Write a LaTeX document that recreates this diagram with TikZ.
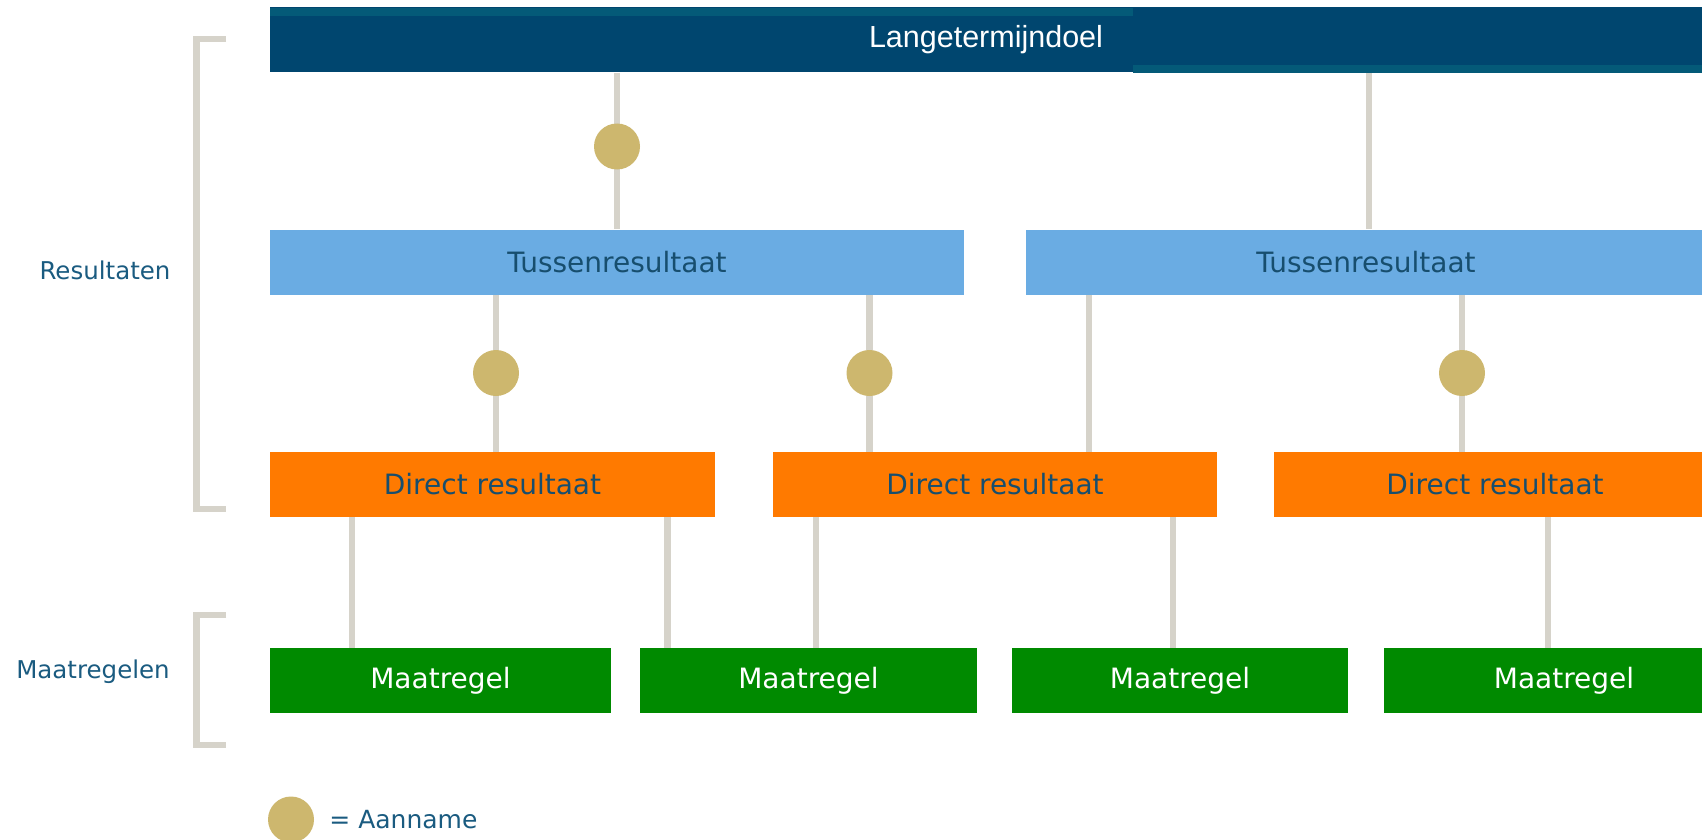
\documentclass[tikz,border=0pt]{standalone}
\usepackage{fontspec}
\setmainfont{DejaVu Sans}
\newfontfamily\ltdfont{Liberation Sans}
\usetikzlibrary{positioning}
\usetikzlibrary{backgrounds}
\definecolor{ltdblue}{HTML}{00466F}
\definecolor{ltdstrip}{HTML}{045A78}
\definecolor{tussen}{HTML}{6AACE3}
\definecolor{direct}{HTML}{FF7A00}
\definecolor{maatgreen}{HTML}{008A00}
\definecolor{aanname}{HTML}{CDB76E}
\definecolor{linkgray}{HTML}{D6D3CA}
\definecolor{labelblue}{HTML}{1A5B80}
\definecolor{boxtext}{HTML}{174E6E}
\tikzstyle{blok}=[rectangle,inner sep=0pt,minimum height=65pt,font=\fontsize{28}{34}\selectfont]
\tikzstyle{doel}=[blok,fill=ltdblue,text=white,font=\ltdfont\fontsize{30.5}{36}\selectfont]
\tikzstyle{tus}=[blok,fill=tussen,text=boxtext]
\tikzstyle{dir}=[blok,fill=direct,text=boxtext]
\tikzstyle{maat}=[blok,fill=maatgreen,text=white]
\tikzstyle{aan}=[circle,fill=aanname,inner sep=0pt,minimum size=46pt]
\tikzstyle{link}=[line width=6.5pt,draw=linkgray]
\tikzstyle{haak}=[line width=6.5pt,draw=linkgray,line join=miter]
\tikzstyle{zij}=[text=labelblue,font=\fontsize{24.5}{30}\selectfont]

\begin{document}
\begin{tikzpicture}[x=1pt,y=-1pt]
	\useasboundingbox (0,0) rectangle (1702,840);
	
	\node [doel, minimum width=1432pt, minimum height=65pt] (ltd) at (986,40) {Langetermijndoel};
	\fill[ltdstrip] (270,7.6) rectangle (1133,16);
	\fill[ltdstrip] (1133,65) rectangle (1702,72.7);
	
	\node [tus, minimum width=694pt] (t1) at (617,262) {Tussenresultaat};
	\node [tus, minimum width=680pt] (t2) at (1366,262) {Tussenresultaat};
	
	\node [dir, minimum width=445pt] (d1) at (492.5,484.5) {Direct resultaat};
	\node [dir, minimum width=444pt] (d2) at (995,484.5) {Direct resultaat};
	\node [dir, minimum width=442pt] (d3) at (1495,484.5) {Direct resultaat};
	
	\node [maat, minimum width=341pt] (m1) at (440.5,680.5) {Maatregel};
	\node [maat, minimum width=337pt] (m2) at (808.5,680.5) {Maatregel};
	\node [maat, minimum width=336pt] (m3) at (1180,680.5) {Maatregel};
	\node [maat, minimum width=360pt] (m4) at (1564,680.5) {Maatregel};
	
	\node [aan] (a1) at (617,146.5) {};
	\node [aan] (a2) at (496,373) {};
	\node [aan] (a3) at (869.5,373) {};
	\node [aan] (a4) at (1462,373) {};
	
	\begin{scope}[on background layer]
		\foreach \van/\naar/\c in {ltd/t1/a1, t1/d1/a2, t1/d2/a3, t2/d3/a4}
			\draw[link] (\van.south -| \c) -- (\naar.north -| \c);
		\foreach \van/\naar/\x in {ltd/t2/1369, t2/d2/1089, d1/m1/352, d1/m2/667.6, d2/m2/816, d2/m3/1173, d3/m4/1548}{
			\coordinate (k) at (\x,0);
			\draw[link] (\van.south -| k) -- (\naar.north -| k);
		}
	\end{scope}
	
	% haken links
	\draw[haak] (226,39) -- (196.5,39) -- (196.5,509) -- (226,509);
	\draw[haak] (226,615) -- (196.5,615) -- (196.5,745) -- (226,745);
	\node [zij] (res) at (105,270) {Resultaten};
	\node [zij] (maatr) at (93,672) {Maatregelen};
	
	% legenda
	\node [aan] (leg) at (291,819.5) {};
	\node [zij, right=15pt of leg, inner sep=0pt, font=\fontsize{25}{30}\selectfont] (legtxt) {= Aanname};
\end{tikzpicture}
\end{document}
